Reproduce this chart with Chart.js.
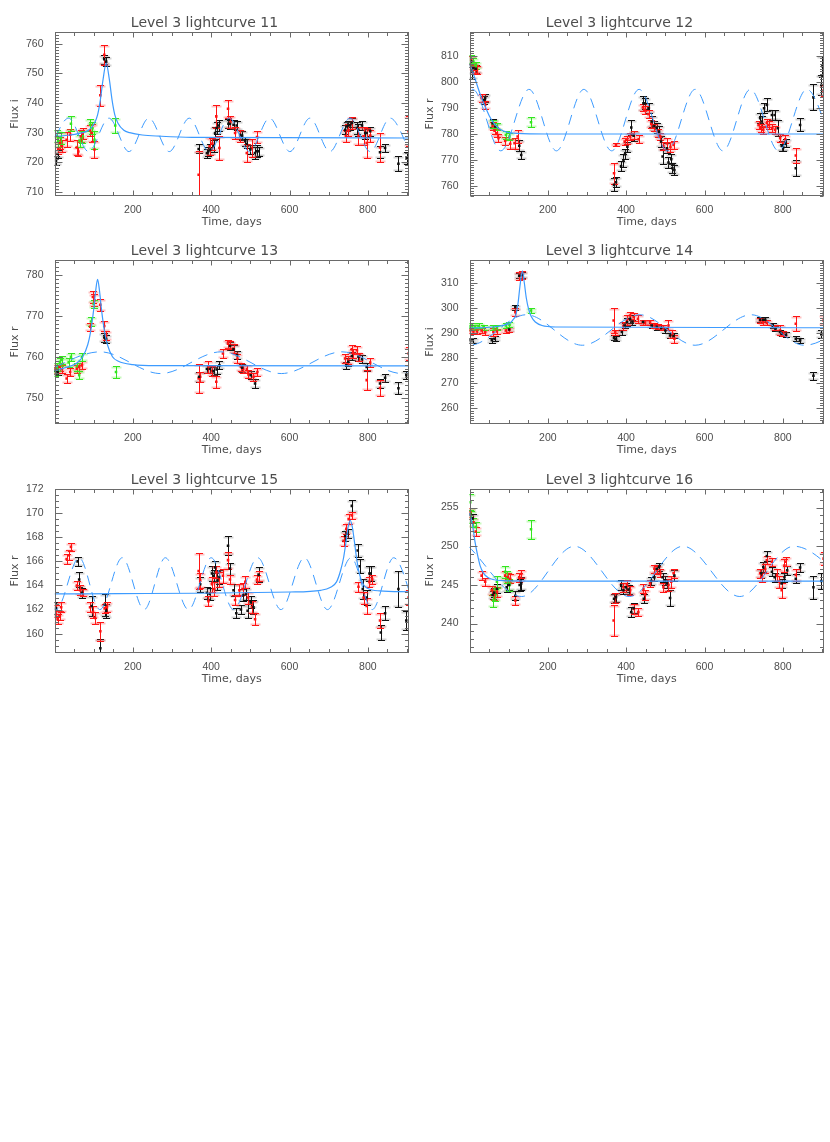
<!DOCTYPE html>
<html>
<head>
<meta charset="utf-8">
<script src="https://cdn.jsdelivr.net/npm/chart.js@4/dist/chart.umd.min.js"></script>
<style>
  body { margin: 0; background: #fff; width: 830px; height: 1142px; position: relative; overflow: hidden; }
  .panel { position: absolute; width: 415px; height: 228px; }
</style>
</head>
<body>
<div class="panel" style="left:0;top:0"><canvas id="c11" width="415" height="228"></canvas></div>
<div class="panel" style="left:415px;top:0"><canvas id="c12" width="415" height="228"></canvas></div>
<div class="panel" style="left:0;top:228px"><canvas id="c13" width="415" height="228"></canvas></div>
<div class="panel" style="left:415px;top:228px"><canvas id="c14" width="415" height="228"></canvas></div>
<div class="panel" style="left:0;top:457px"><canvas id="c15" width="415" height="228"></canvas></div>
<div class="panel" style="left:415px;top:457px"><canvas id="c16" width="415" height="228"></canvas></div>
<script>
// Time axis (days)
const xTicks = [200, 400, 600, 800];

// Points are [day, flux, error]; curves are [day, flux]
const lc11Black = [[4,720.6,1.5],[8,722.8,1.5],[127,754.8,1.5],[132,754.0,1.5],[368,724.5,1.5],[389,723.1,1.5],[393,723.7,1.5],[398,724.3,2],[406,725.4,2],[410,729.9,2],[414,731.6,2],[419,732.4,2],[444,733.0,1.5],[448,732.9,1.5],[457,732.7,1.5],[465,732.4,1.5],[474,729.3,1.5],[479,729.0,1.5],[487,727.1,1.5],[491,726.2,1.5],[500,724.3,1.5],[512,723.1,2],[517,723.7,2],[521,723.7,1.5],[742,731.0,1.5],[746,732.1,1.5],[750,732.4,1.5],[755,732.5,1.5],[759,733.3,1.5],[772,731.6,2],[776,731.0,2],[785,732.4,1.5],[793,729.9,2],[797,729.9,1.5],[806,730.5,1.5],[831,723.4,2],[844,724.8,1.5],[878,719.5,2.5],[899,721.5,2]];
const lc11Red = [[10,724.8,2],[14,726.5,2],[19,725.4,2],[31,727.6,2.5],[40,729.3,2],[57,725.0,2.5],[61,723.6,1.5],[67,728.8,2],[72,729.7,2],[91,730.7,2],[95,729.9,3],[102,724.3,3],[117,742.6,3.6],[127,756.3,3.4],[368,715.8,8],[396,725.4,3],[403,726.3,2],[413,735.5,4],[421,724.8,4],[443,738.1,3],[449,733.5,2],[461,729.9,2],[474,728.8,2],[491,723.1,3],[504,724.8,3],[517,728.5,2],[744,728.8,2],[750,730.8,2],[759,733.3,2],[776,728.8,3],[789,728.8,3],[797,726.5,5],[806,729.0,2],[831,725.0,5],[904,730.5,5]];
const lc11Green = [[6,728.8,2],[10,727.0,2],[16,728.2,2],[42,733.0,2.5],[64,727.3,2],[70,728.5,2],[91,732.7,2],[97,731.5,2],[102,727.6,3],[155,732.4,2.5]];
const lc11Fit = [[0,728.7],[40,729.2],[72,730.0],[87,730.8],[102,733.2],[110,736],[117,741],[124,748],[132,753.5],[140,748],[147,741],[154,736],[162,733.2],[177,730.8],[192,730.0],[224,729.2],[270,728.8],[350,728.4],[905,728.2]];
const lc11Wave = [[-15,723.6],[36,734.9],[87,723.6],[139,734.9],[190,723.6],[241,734.9],[293,723.6],[344,734.9],[395,723.6],[446,734.9],[498,723.6],[549,734.9],[601,723.6],[652,734.9],[703,723.6],[754,734.9],[806,723.6],[857,734.9],[908,723.6]];

const lc12Black = [[4,807.8,2],[6,804.0,3],[10,805.2,2],[16,805.0,1.5],[36,793.0,1.5],[40,793.7,1.5],[59,784.0,1.5],[66,782.8,1.5],[127,775.4,2],[132,771.8,1.5],[369,760.3,2.5],[374,761.3,2],[387,767.6,2],[393,769.5,2.5],[397,772.1,2],[403,775.0,2],[413,782.4,3],[419,779.2,2],[444,791.7,3],[448,791.7,2],[457,789.8,2],[465,784.7,2],[472,783.0,2],[478,782.1,2],[484,780.8,2],[489,777.0,2],[493,771.2,3],[504,774.4,2],[508,768.9,2],[515,770.2,2],[518,766.7,2],[523,766.0,2],[742,786.0,2],[746,784.7,2],[752,789.8,2],[759,791.1,2.5],[772,787.2,2],[779,787.2,2],[787,782.1,3],[797,775.3,2],[801,774.7,1.5],[807,776.3,1.5],[833,766.7,3],[844,783.4,2.5],[878,794.0,5],[898,798.8,4],[901,806.0,4]];
const lc12Red = [[4,808.5,1.5],[8,805.9,1.5],[13,804.9,1.5],[19,804.6,1.5],[31,793.7,1.5],[40,791.1,1.5],[59,783.0,1.5],[64,781.2,1.5],[70,780.2,1.5],[74,778.3,1.5],[91,777.2,1.5],[104,776.1,2],[115,776.3,2],[123,778.9,2.5],[369,764.8,4],[374,775.7,0.6],[396,777.0,1.5],[402,777.6,1.5],[410,778.9,1.5],[419,779.5,1.5],[432,777.9,1.5],[443,790.1,1.5],[448,789.2,1.5],[457,787.5,1.5],[464,783.8,1.5],[472,782.4,1.5],[481,780.2,1.5],[487,778.9,1.5],[495,775.3,1.5],[504,776.3,2],[513,775.0,2],[521,775.7,1.5],[738,783.4,1.5],[744,782.1,1.5],[750,781.5,1.5],[759,784.0,1.5],[764,783.4,1.5],[773,782.1,1.5],[780,781.5,1.5],[793,778.3,1.5],[806,777.9,1.5],[833,771.6,3],[904,796.6,2]];
const lc12Green = [[4,808.7,1.5],[10,807.8,1.5],[16,806.3,1.5],[59,783.8,1.5],[70,782.8,1.5],[93,779.5,1.5],[102,778.9,1.5],[157,784.4,2]];
const lc12Fit = [[0,807],[10,803],[20,798.5],[30,794],[40,790.5],[50,787],[60,784.5],[70,782.7],[80,781.5],[95,780.6],[120,780.1],[200,779.9],[905,779.9]];
const lc12Wave = [[-64,773.4],[8,797.1],[80,773.4],[152,797.1],[222,773.4],[292,797.1],[363,773.4],[433,797.1],[505,773.4],[576,797.1],[647,773.4],[717,797.1],[789,773.4],[861,797.1],[932,773.4]];

const lc13Black = [[2,756.6,0.8],[8,756.3,0.8],[127,764.7,1],[132,764.4,1],[369,755.1,1.2],[389,757.0,1],[397,757.0,1],[406,756.5,1],[414,756.9,1],[421,757.9,1],[448,762.6,1],[457,761.8,1],[466,760.4,1],[479,757.3,1],[501,755.5,1],[512,753.5,1],[745,757.9,0.8],[750,758.8,1],[759,760.2,1],[776,760.0,1],[785,759.4,1],[797,757.5,1],[831,753.5,1],[844,754.9,1],[878,752.3,1.5],[898,755.5,1]];
const lc13Red = [[2,757.1,1],[13,757.5,1],[19,757.0,1],[31,754.7,1],[40,756.3,1],[57,757.1,1],[63,757.5,1],[70,757.9,1],[91,767.3,1],[98,774.6,1.5],[102,773.8,1.5],[117,772.7,1.5],[127,767.5,1.2],[132,765.2,1],[368,754.7,3.5],[372,755.1,1.2],[393,757.5,1.5],[402,756.5,1.2],[413,753.9,1.5],[430,760.8,1],[443,763.2,1],[448,762.8,1],[457,762.0,1],[467,759.6,1],[476,757.5,1],[482,757.1,1],[491,757.0,1],[495,755.7,1],[508,755.1,1],[518,756.3,1],[742,759.6,1],[750,759.2,1],[759,761.8,1],[763,760.8,1],[772,761.6,1],[778,760.0,1],[797,754.3,2.5],[806,758.6,1],[831,752.4,2],[904,760.8,1.5]];
const lc13Green = [[2,756.3,1],[6,757.5,1],[14,758.8,1],[19,759.2,1],[36,758.6,1],[42,760.0,1],[57,757.5,1],[63,755.5,1],[70,760.0,1],[93,768.6,1],[100,772.9,1],[157,756.3,1.5]];
const lc13Fit = [[0,756.6],[30,757.4],[57,758.5],[72,760],[85,763],[92,766],[100,771.5],[105,776],[110,778.9],[115,776],[120,771.5],[128,766],[135,763],[148,760],[163,758.9],[200,758.1],[260,757.85],[905,757.8]];
const lc13Wave = [[-37,755.9],[117,761.2],[271,755.9],[425,761.2],[579,755.9],[734,761.2],[888,755.9],[1042,761.2]];

const lc14Black = [[2,287.1,1],[8,287.1,1],[57,287.1,1],[64,287.7,1],[101,291.4,1],[117,300.3,1],[127,312.9,1],[134,313.2,1],[369,288.0,1],[374,287.7,1],[389,290.4,1],[396,293.0,1],[402,294.4,1.5],[410,295.7,1.5],[416,294.4,1],[443,294.4,1],[465,293.0,1],[478,292.4,1],[489,292.0,1],[500,291.0,1],[512,289.0,1],[521,288.8,1],[742,295.3,1],[750,295.3,1],[755,295.3,1],[774,293.0,1],[781,291.7,1],[793,290.4,1],[797,289.7,1],[808,289.3,1],[833,287.7,1],[844,287.1,1],[878,272.9,1.5],[898,289.7,1.5]];
const lc14Red = [[2,291.0,1],[10,290.6,1],[19,290.6,1],[31,291.0,1],[40,290.4,1],[61,290.4,1.5],[70,290.6,1],[93,291.0,1],[102,291.4,1],[117,298.3,1.5],[127,312.9,1.5],[134,313.2,1.5],[368,295.0,5],[372,290.4,1],[393,292.8,1.5],[402,295.0,2],[410,297.0,1.5],[419,296.3,1.5],[430,295.7,1.5],[443,294.4,1],[448,294.1,1],[461,294.4,1],[472,293.0,1],[482,292.6,1],[495,292.0,1],[508,293.0,2],[518,289.7,1.5],[523,287.7,1.5],[742,295.0,1],[750,294.4,1],[759,294.1,1],[779,292.4,1],[793,291.0,2],[801,289.7,1],[833,293.7,3],[904,295.0,2]];
const lc14Green = [[2,292.4,1],[6,293.0,1],[14,292.4,1],[23,292.8,1],[36,292.4,1],[61,292.0,1],[70,292.4,1],[93,293.0,1],[102,293.3,1],[157,299.0,1]];
const lc14Fit = [[0,292],[60,292.4],[90,293.2],[104,294],[112,295.5],[118,297],[124,302],[129,309],[135,314.9],[140,310],[145,304],[151,299.5],[158,296.5],[168,294.4],[185,293],[220,292.4],[905,292.1]];
const lc14Wave = [[-143,297.3],[0,285.1],[145,297.3],[288,285.1],[435,297.3],[576,285.1],[719,297.3],[855,285.1],[1000,297.3]];

const lc15Black = [[4,162.1,0.5],[59,166.0,0.4],[63,164.5,0.6],[70,163.4,0.4],[95,162.3,0.8],[117,158.8,0.8],[128,162.4,0.9],[132,161.9,0.6],[372,164.1,0.6],[389,163.4,0.5],[396,163.3,0.5],[402,165.0,0.6],[406,164.8,0.5],[410,165.5,0.5],[416,164.4,0.8],[421,164.7,0.6],[443,167.3,0.8],[448,165.4,0.5],[457,163.6,0.5],[464,161.7,0.4],[476,162.0,0.4],[482,163.2,0.5],[489,163.3,0.5],[493,161.9,0.6],[501,162.6,0.5],[508,162.2,0.6],[521,164.9,0.6],[742,168.1,0.4],[748,168.3,0.4],[759,170.6,0.5],[774,166.9,0.5],[779,165.6,0.6],[787,163.7,0.8],[797,163.0,0.6],[804,165.0,0.6],[807,165.0,0.6],[833,160.1,0.6],[844,161.7,0.6],[878,163.7,1.5],[898,161.1,0.8]];
const lc15Red = [[4,161.9,0.5],[8,161.2,0.4],[13,161.5,0.4],[17,162.2,0.4],[31,166.2,0.4],[36,166.5,0.4],[42,167.2,0.3],[57,164.0,0.4],[66,163.6,0.4],[72,163.4,0.3],[91,162.2,0.4],[98,161.8,0.5],[104,161.3,0.5],[117,160.2,0.8],[128,162.1,0.4],[134,162.2,0.4],[368,165.2,1.5],[372,164.4,0.6],[393,162.7,0.4],[402,164.1,0.6],[408,163.7,0.6],[413,165.1,0.5],[419,164.5,0.6],[430,164.8,0.6],[443,166.1,0.7],[448,164.5,0.4],[461,162.8,0.4],[472,163.6,0.5],[480,163.7,0.5],[487,164.3,0.5],[494,163.0,0.5],[504,162.2,0.5],[512,161.2,0.5],[517,164.5,0.4],[521,164.8,0.4],[738,167.7,0.4],[745,168.7,0.4],[751,169.5,0.4],[759,169.8,0.3],[776,163.9,0.4],[789,163.0,0.5],[797,162.3,0.7],[804,164.3,0.4],[811,164.5,0.4],[831,161.1,0.6],[904,163.0,0.6]];
const lc15Green = [];
const lc15Fit = [[0,163.3],[600,163.46],[680,163.6],[705,163.85],[720,164.3],[730,165.2],[738,166.3],[745,167.8],[750,168.9],[755,169.4],[760,168.9],[765,167.8],[771,166.3],[778,165.0],[788,164.1],[800,163.75],[830,163.55],[905,163.48]];
const lc15Wave = [[-55,166.3],[4,162.0],[63,166.3],[116,162.0],[173,166.3],[229,162.0],[283,166.3],[342,162.0],[400,166.3],[457,162.0],[519,166.3],[578,162.0],[638,166.3],[697,162.0],[757,166.3],[811,162.0],[866,166.3],[922,162.0]];

const lc16Black = [[2,254.1,0.6],[8,253.6,0.6],[59,243.7,0.5],[63,244.0,0.6],[70,244.5,0.6],[95,244.7,0.6],[101,245.0,0.6],[117,243.6,0.6],[128,245.0,0.8],[132,245.2,0.8],[369,243.2,0.6],[374,243.4,0.6],[387,245.0,0.6],[393,244.3,0.5],[399,244.7,0.6],[406,244.4,0.6],[413,241.5,0.6],[419,242.0,0.6],[445,243.2,0.6],[464,245.5,0.5],[472,246.0,0.5],[478,247.1,0.5],[484,247.3,0.5],[493,246.0,0.6],[500,245.6,0.6],[504,245.2,0.6],[512,243.3,1],[523,246.2,0.7],[745,246.5,0.6],[750,247.3,0.6],[759,248.75,0.6],[772,246.7,0.6],[779,246.0,0.6],[797,245.2,0.6],[804,246.0,0.6],[811,246.9,0.6],[833,245.8,0.6],[844,247.25,0.6],[878,244.7,1.5],[898,245.5,1]];
const lc16Red = [[2,254.4,0.6],[10,253.1,0.6],[16,251.9,0.6],[31,246.2,0.6],[40,245.4,0.5],[57,244.3,0.6],[63,243.7,0.6],[70,244.1,0.6],[91,246.2,0.6],[98,246.0,0.6],[104,245.8,0.6],[117,243.0,0.6],[127,246.0,0.6],[132,246.4,0.5],[368,240.4,2],[372,243.3,0.6],[393,244.7,0.6],[402,245.0,0.6],[410,244.3,0.6],[419,241.9,0.6],[431,241.5,0.5],[444,244.5,0.6],[448,243.7,0.6],[461,245.2,0.5],[472,247.1,0.5],[478,246.9,0.5],[487,246.5,0.5],[495,244.7,0.6],[508,245.0,0.8],[515,245.4,0.8],[521,246.5,0.6],[742,246.5,0.6],[746,246.0,0.6],[755,247.1,0.6],[759,248.2,0.5],[772,248.0,0.5],[785,246.3,0.8],[791,245.4,0.8],[797,244.3,1],[804,247.5,0.8],[807,248.0,0.6],[833,246.3,0.8],[904,248.4,0.8]];
const lc16Green = [[2,255.7,1],[4,253.8,0.8],[10,253.1,0.6],[16,252.5,0.6],[61,243.0,0.8],[66,243.7,0.8],[70,245.4,0.8],[91,246.7,0.8],[95,246.0,0.8],[102,245.0,0.8],[157,252.2,1.2]];
const lc16Fit = [[0,254.3],[7,253],[14,250.6],[20,249],[27,247.5],[36,246.5],[46,246],[60,245.7],[85,245.55],[150,245.5],[905,245.5]];
const lc16Wave = [[-3,250.0],[133,243.5],[268,250.0],[408,243.5],[545,250.0],[690,243.5],[828,250.0],[1000,243.5]];

const panels = [
  { id: 'c11', title: 'Level 3 lightcurve 11', band: 'Flux i', yMin: 708.6, yMax: 764, yMajor: 10, yMinor: 1, black: lc11Black, red: lc11Red, green: lc11Green, fit: lc11Fit, wave: lc11Wave },
  { id: 'c12', title: 'Level 3 lightcurve 12', band: 'Flux r', yMin: 756, yMax: 819.2, yMajor: 10, yMinor: 1, black: lc12Black, red: lc12Red, green: lc12Green, fit: lc12Fit, wave: lc12Wave },
  { id: 'c13', title: 'Level 3 lightcurve 13', band: 'Flux r', yMin: 743.6, yMax: 783.6, yMajor: 10, yMinor: 1, black: lc13Black, red: lc13Red, green: lc13Green, fit: lc13Fit, wave: lc13Wave },
  { id: 'c14', title: 'Level 3 lightcurve 14', band: 'Flux i', yMin: 253.6, yMax: 319.2, yMajor: 10, yMinor: 1, black: lc14Black, red: lc14Red, green: lc14Green, fit: lc14Fit, wave: lc14Wave },
  { id: 'c15', title: 'Level 3 lightcurve 15', band: 'Flux r', yMin: 158.4, yMax: 172, yMajor: 2, yMinor: 0.5, black: lc15Black, red: lc15Red, green: lc15Green, fit: lc15Fit, wave: lc15Wave },
  { id: 'c16', title: 'Level 3 lightcurve 16', band: 'Flux r', yMin: 236.2, yMax: 257.4, yMajor: 5, yMinor: 1, black: lc16Black, red: lc16Red, green: lc16Green, fit: lc16Fit, wave: lc16Wave }
];

const BLUE = '#3d9bff';
const AXIS = '#6a6a6a';
const TEXT = '#4d4d4d';

// error bars under the points, clipped to the plot box
const errorBars = {
  id: 'errorBars',
  beforeDatasetsDraw(chart) {
    const { ctx, chartArea: a, scales: { y } } = chart;
    ctx.save();
    ctx.beginPath();
    ctx.rect(a.left, a.top, a.right - a.left, a.bottom - a.top);
    ctx.clip();
    chart.data.datasets.forEach((ds, i) => {
      if (!ds.errColor) return;
      chart.getDatasetMeta(i).data.forEach((pt, j) => {
        const d = ds.data[j];
        const x = Math.round(pt.x) + 0.5;
        const top = Math.round(y.getPixelForValue(d.y + d.e)) + 0.5;
        const bot = Math.round(y.getPixelForValue(d.y - d.e)) + 0.5;
        ctx.strokeStyle = ds.haloColor;
        ctx.lineWidth = 2;
        ctx.beginPath();
        ctx.moveTo(x - 5, top + 1); ctx.lineTo(x + 5, top + 1);
        ctx.moveTo(x - 5, bot - 1); ctx.lineTo(x + 5, bot - 1);
        ctx.stroke();
        ctx.strokeStyle = ds.errColor;
        ctx.lineWidth = 1;
        ctx.beginPath();
        ctx.moveTo(x, top); ctx.lineTo(x, bot);
        ctx.moveTo(x - 3.5, top); ctx.lineTo(x + 3.5, top);
        ctx.moveTo(x - 3.5, bot); ctx.lineTo(x + 3.5, bot);
        ctx.stroke();
      });
    });
    ctx.restore();
  }
};

// box with inward ticks on all four sides
const frame = {
  id: 'frame',
  afterDatasetsDraw(chart, args, opts) {
    const { ctx, chartArea: a, scales: { x, y } } = chart;
    const L = Math.round(a.left) + 0.5, R = Math.round(a.right) - 0.5;
    const T = Math.round(a.top) + 0.5, B = Math.round(a.bottom) - 0.5;
    ctx.save();
    ctx.strokeStyle = AXIS;
    ctx.lineWidth = 1;
    ctx.strokeRect(L, T, R - L, B - T);
    ctx.beginPath();
    for (let n = Math.ceil(x.min / 50); n * 50 <= x.max; n++) {
      const px = Math.round(x.getPixelForValue(n * 50)) + 0.5;
      const len = n % 4 === 0 ? 5 : 3.5;
      ctx.moveTo(px, B); ctx.lineTo(px, B - len);
      ctx.moveTo(px, T); ctx.lineTo(px, T + len);
    }
    for (let n = Math.ceil(y.min / opts.minor - 1e-6); n * opts.minor <= y.max + 1e-6; n++) {
      const v = n * opts.minor;
      const q = v / opts.major;
      const len = Math.abs(q - Math.round(q)) < 1e-6 ? 7 : 3.5;
      const py = Math.round(y.getPixelForValue(v)) + 0.5;
      ctx.moveTo(L, py); ctx.lineTo(L + len, py);
      ctx.moveTo(R, py); ctx.lineTo(R - len, py);
    }
    ctx.stroke();
    ctx.restore();
  }
};

const toPts = rows => rows.map(([x, y, e]) => ({ x, y, e }));
const toLine = rows => rows.map(([x, y]) => ({ x, y }));

function pointSet(rows, color, halo) {
  return {
    data: toPts(rows),
    showLine: false,
    pointStyle: 'rect',
    pointRadius: 1.8,
    pointBorderWidth: 0,
    backgroundColor: color,
    borderColor: color,
    errColor: color,
    haloColor: halo
  };
}

function curveSet(rows, dash, width) {
  return {
    data: toLine(rows),
    showLine: true,
    pointRadius: 0,
    borderColor: BLUE,
    borderWidth: width,
    borderDash: dash,
    cubicInterpolationMode: 'monotone',
    capBezierPoints: false,
    fill: false
  };
}

Chart.defaults.font.family = 'DejaVu Sans';

panels.forEach(p => {
  const yTicks = [];
  for (let v = Math.ceil(p.yMin / p.yMajor) * p.yMajor; v <= p.yMax; v += p.yMajor) yTicks.push(v);

  new Chart(document.getElementById(p.id), {
    type: 'scatter',
    data: {
      datasets: [
        curveSet(p.wave, [10, 7], 1),
        curveSet(p.fit, [], 1.2),
        pointSet(p.black, '#111111', 'rgba(110,110,110,0.3)'),
        pointSet(p.red, '#ff1414', 'rgba(255,80,80,0.35)'),
        pointSet(p.green, '#33e61f', 'rgba(100,235,70,0.35)')
      ]
    },
    options: {
      responsive: false,
      animation: false,
      events: [],
      layout: { padding: { left: 0, right: 6, top: 0, bottom: 0 } },
      plugins: {
        legend: { display: false },
        tooltip: { enabled: false },
        title: {
          display: true,
          text: p.title,
          color: TEXT,
          font: { family: 'DejaVu Sans', size: 14, weight: 'normal', lineHeight: 1.2 },
          padding: { top: 14.5, bottom: 0.7 }
        },
        frame: { major: p.yMajor, minor: p.yMinor }
      },
      scales: {
        x: {
          type: 'linear',
          min: 0,
          max: 905,
          afterBuildTicks: s => { s.ticks = xTicks.map(v => ({ value: v })); },
          afterFit: s => { s.height = 32; },
          grid: { display: false, drawTicks: false },
          border: { display: false },
          ticks: { padding: 8, color: TEXT, maxRotation: 0, autoSkip: false, font: { family: 'Liberation Sans', size: 10.5 } },
          title: { display: true, text: 'Time, days', color: TEXT, padding: { top: 0, bottom: 0 }, font: { family: 'DejaVu Sans', size: 11, lineHeight: 1 } }
        },
        y: {
          type: 'linear',
          min: p.yMin,
          max: p.yMax,
          afterBuildTicks: s => { s.ticks = yTicks.map(v => ({ value: v })); },
          afterFit: s => { s.width = 54.5; },
          grid: { display: false, drawTicks: false },
          border: { display: false },
          ticks: { padding: 11, color: TEXT, autoSkip: false, font: { family: 'Liberation Sans', size: 10.5 } },
          title: { display: true, text: p.band, color: TEXT, padding: { top: 9.5, bottom: 0 }, font: { family: 'DejaVu Sans', size: 11, lineHeight: 1 } }
        }
      }
    },
    plugins: [errorBars, frame]
  });
});
</script>
</body>
</html>
